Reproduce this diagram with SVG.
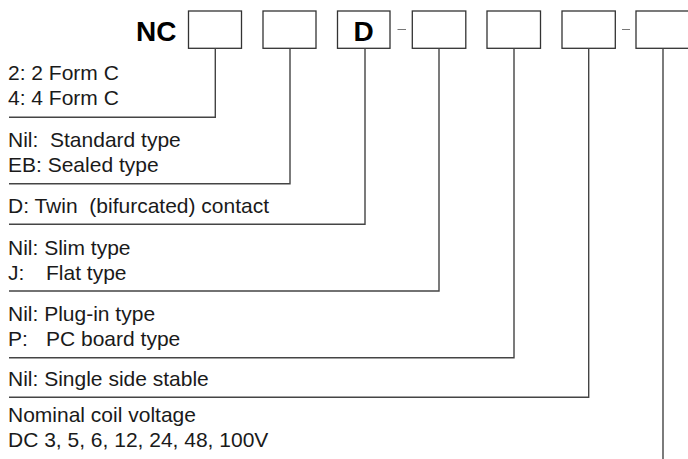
<svg xmlns="http://www.w3.org/2000/svg" width="688" height="459" viewBox="0 0 688 459">
<style>
.t{font-family:"Liberation Sans",Arial,sans-serif;font-size:21px;fill:#1a1a1a}
.h{font-family:"Liberation Sans",Arial,sans-serif;font-size:28px;font-weight:bold;fill:#000}
.box{fill:#fff;stroke:#333;stroke-width:1.3}
.c{fill:none;stroke:#444;stroke-width:1.4}
.d{fill:none;stroke:#777;stroke-width:1.2}
</style>
<rect width="688" height="459" fill="#fff"/>
<g id="header">
<text class="h" x="136" y="41">NC</text>
<path class="d" d="M397.5,29.5H406M622,29.5H630"/>
</g>
<g id="box1"><rect class="box" x="188.5" y="11" width="53" height="37.3"/></g>
<g id="box2"><rect class="box" x="263" y="11" width="53" height="37.3"/></g>
<g id="box3"><rect class="box" x="337.5" y="11" width="52.5" height="37.3"/><text class="h" x="363.7" y="41" text-anchor="middle">D</text></g>
<g id="box4"><rect class="box" x="412.3" y="11" width="53.5" height="37.3"/></g>
<g id="box5"><rect class="box" x="487" y="11" width="53.5" height="37.3"/></g>
<g id="box6"><rect class="box" x="562" y="11" width="53.3" height="37.3"/></g>
<g id="box7"><rect class="box" x="636" y="11" width="53.5" height="37.3"/></g>
<g id="connectors">
<path class="c" d="M215.3,48.3V117.3H9"/>
<path class="c" d="M290,48.3V183.7H9"/>
<path class="c" d="M365,48.3V224.3H9"/>
<path class="c" d="M439,48.3V291H9"/>
<path class="c" d="M514,48.3V357.7H9"/>
<path class="c" d="M588.7,48.3V397.3H9"/>
<path class="c" d="M663,48.3V459"/>
</g>
<g id="label1">
<text class="t" x="8" y="80">2: 2 Form C</text>
<text class="t" x="8" y="105">4: 4 Form C</text>
</g>
<g id="label2">
<text class="t" x="8" y="146.5" xml:space="preserve">Nil:  Standard type</text>
<text class="t" x="8" y="171.5">EB: Sealed type</text>
</g>
<g id="label3">
<text class="t" x="8" y="213" xml:space="preserve">D: Twin  (bifurcated) contact</text>
</g>
<g id="label4">
<text class="t" x="8" y="254.5">Nil: Slim type</text>
<text class="t" x="8" y="279.5">J:<tspan x="46">Flat type</tspan></text>
</g>
<g id="label5">
<text class="t" x="8" y="320.5">Nil: Plug-in type</text>
<text class="t" x="8" y="345.5">P:<tspan x="46">PC board type</tspan></text>
</g>
<g id="label6">
<text class="t" x="8" y="385.5">Nil: Single side stable</text>
</g>
<g id="label7">
<text class="t" x="8" y="422">Nominal coil voltage</text>
<text class="t" x="8" y="447">DC 3, 5, 6, 12, 24, 48, 100V</text>
</g>
</svg>
